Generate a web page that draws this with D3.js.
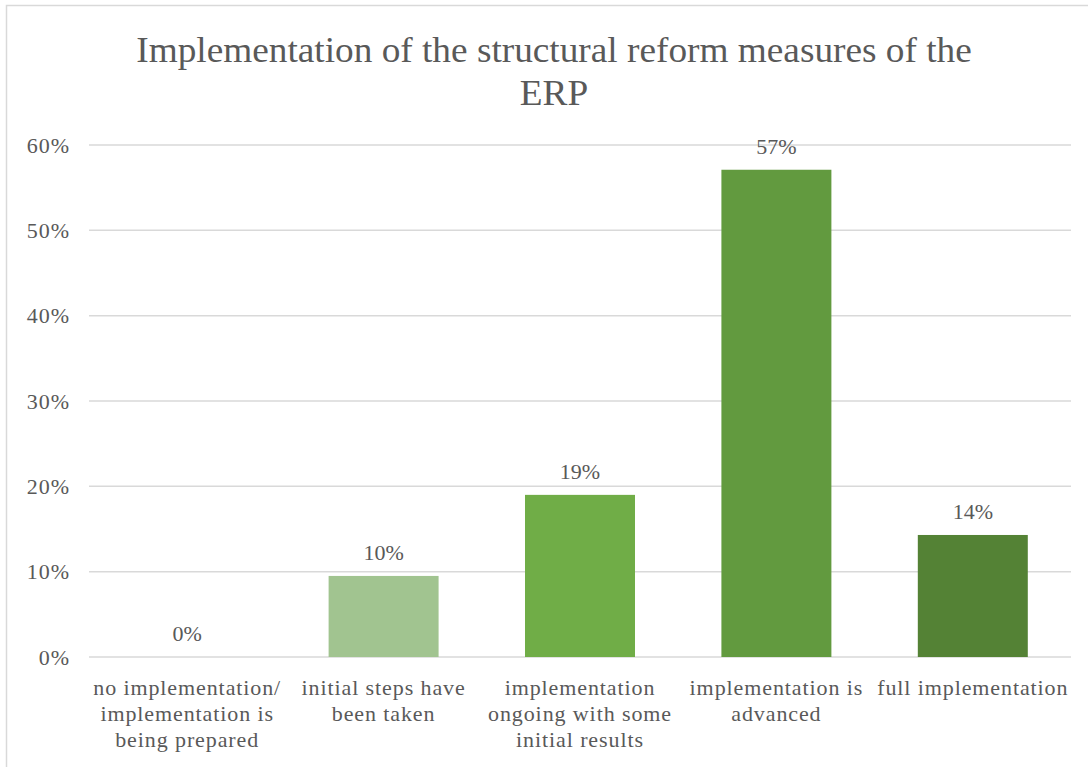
<!DOCTYPE html>
<html>
<head>
<meta charset="utf-8">
<script src="https://cdn.jsdelivr.net/npm/d3@7"></script>
</head>
<body style="margin:0;background:#fff">
<div id="vis"></div>
<script>
// dados
const categories = [
    ["no implementation/", "implementation is", "being prepared"],
    ["initial steps have", "been taken"],
    ["implementation", "ongoing with some", "initial results"],
    ["implementation is", "advanced"],
    ["full implementation"]
];
const values = [0, 0.095, 0.19, 0.571, 0.143];
const valueLabels = ["0%", "10%", "19%", "57%", "14%"];
const barColors = ["#a5c593", "#a1c490", "#70ad47", "#629a3f", "#548235"];
const yTicks = [0, 0.1, 0.2, 0.3, 0.4, 0.5, 0.6];
const titleLines = ["Implementation of the structural reform measures of the", "ERP"];

const FONT = "Liberation Serif";
const TXT = "#595959";

const W = 1088, H = 767;
const margin = { top: 145, right: 17, bottom: 110, left: 89 };
const width = W - margin.left - margin.right;
const height = H - margin.top - margin.bottom;

const svg = d3.select("#vis").append("svg")
    .attr("width", W)
    .attr("height", H)
    .attr("font-family", FONT);

// borda do gráfico
svg.append("rect")
    .attr("x", 6.5).attr("y", 5.5)
    .attr("width", W + 10).attr("height", H + 10)
    .attr("fill", "none")
    .attr("stroke", "#d9d9d9")
    .attr("stroke-width", 1.5);

// título (largura ajustada ao original)
const title = svg.append("g");
title.selectAll("text")
    .data(titleLines)
    .enter()
    .append("text")
    .attr("x", 0)
    .attr("y", (d, i) => 62 + i * 43)
    .attr("text-anchor", "middle")
    .attr("font-family", FONT)
    .attr("font-size", 36)
    .attr("fill", TXT)
    .text(d => d);
const natural = title.select("text").node().getComputedTextLength();
const sx = 836 / natural;
title.attr("transform", `translate(554,0) scale(${sx},1)`);

const g = svg.append("g")
    .attr("transform", `translate(${margin.left},${margin.top})`);

const x = d3.scaleBand()
    .domain(d3.range(values.length))
    .range([0, width])
    .paddingInner(0.44)
    .paddingOuter(0.22);

const y = d3.scaleLinear()
    .domain([0, 0.6])
    .range([height, 0]);

// linhas de grade
g.selectAll("line.grid")
    .data(yTicks)
    .enter()
    .append("line")
    .attr("class", "grid")
    .attr("x1", 0).attr("x2", width)
    .attr("y1", d => y(d)).attr("y2", d => y(d))
    .attr("stroke", "#d9d9d9")
    .attr("stroke-width", 1.5);

// eixo y
const yAxis = g.append("g")
    .call(d3.axisLeft(y).tickValues(yTicks).tickFormat(d3.format(".0%")).tickSize(0).tickPadding(19));
yAxis.select(".domain").remove();
yAxis.attr("font-family", FONT).attr("font-size", 22);
yAxis.selectAll("text")
    .attr("fill", TXT)
    .attr("letter-spacing", 1);

// barras
g.selectAll("rect.bar")
    .data(values)
    .enter()
    .append("rect")
    .attr("class", "bar")
    .attr("x", (d, i) => x(i))
    .attr("y", d => y(d))
    .attr("width", x.bandwidth())
    .attr("height", d => height - y(d))
    .attr("fill", (d, i) => barColors[i]);

// rótulos de valor
g.selectAll("text.val")
    .data(values)
    .enter()
    .append("text")
    .attr("class", "val")
    .attr("x", (d, i) => x(i) + x.bandwidth() / 2)
    .attr("y", d => y(d) - 16)
    .attr("text-anchor", "middle")
    .attr("font-family", FONT)
    .attr("font-size", 22)
    .attr("fill", TXT)
    .text((d, i) => valueLabels[i]);

// categorias
const cat = g.selectAll("text.cat")
    .data(categories)
    .enter()
    .append("text")
    .attr("class", "cat")
    .attr("x", (d, i) => x(i) + x.bandwidth() / 2)
    .attr("y", height + 38)
    .attr("text-anchor", "middle")
    .attr("font-family", FONT)
    .attr("font-size", 22)
    .attr("letter-spacing", 0.9)
    .attr("fill", TXT);
cat.selectAll("tspan")
    .data(d => d)
    .enter()
    .append("tspan")
    .attr("x", function() { return d3.select(this.parentNode).attr("x"); })
    .attr("dy", (d, i) => i === 0 ? 0 : 26)
    .text(d => d);
</script>
</body>
</html>
